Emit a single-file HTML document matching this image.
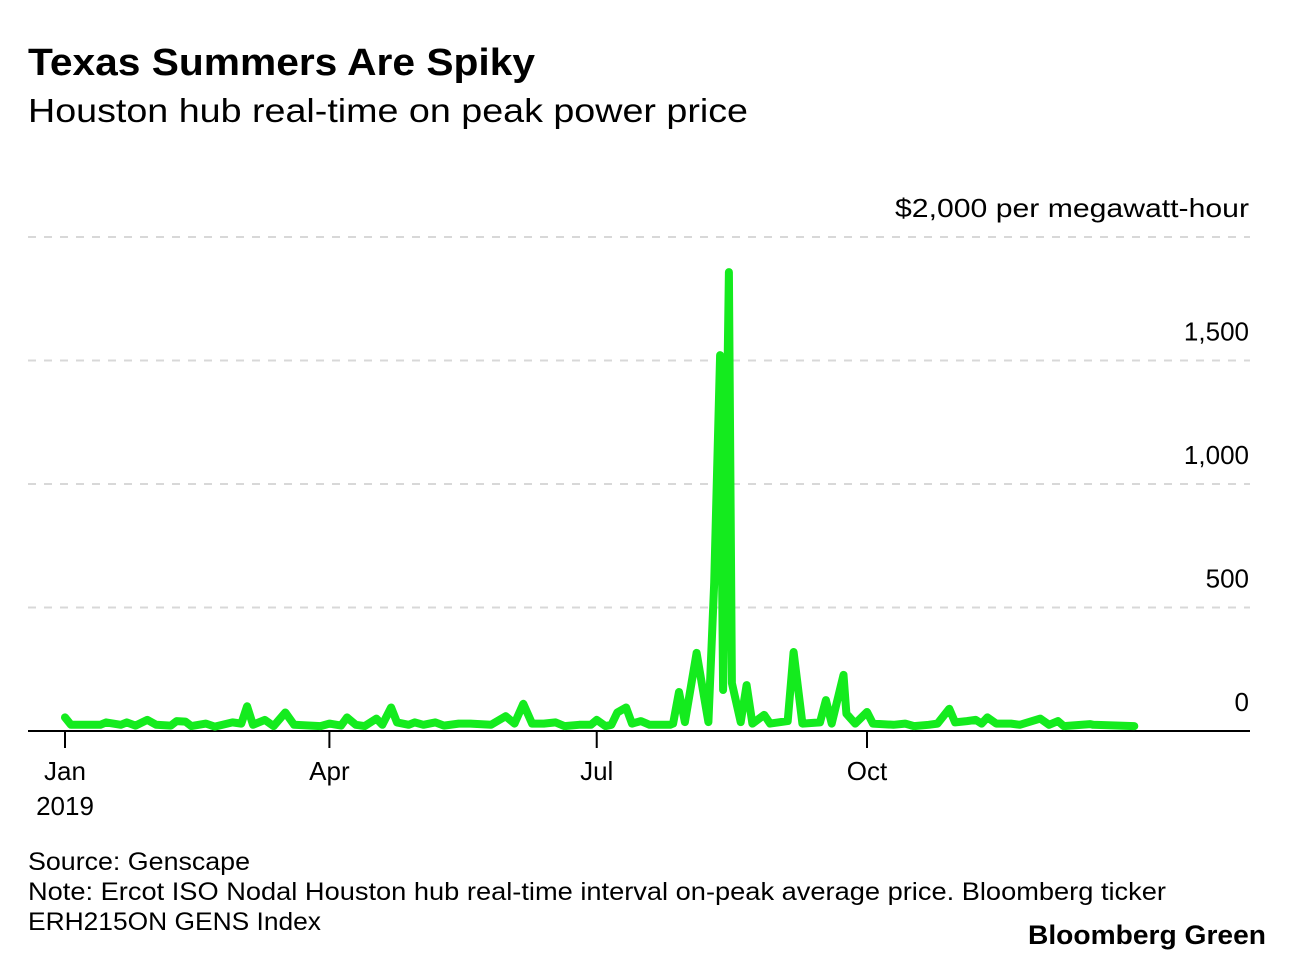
<!DOCTYPE html>
<html><head><meta charset="utf-8"><style>
body{margin:0;background:#fff;font-family:"Liberation Sans",sans-serif;}
svg text{font-family:"Liberation Sans",sans-serif;}
</style></head><body>
<svg width="1296" height="962" xmlns="http://www.w3.org/2000/svg">
<text x="28" y="75" font-size="38" font-weight="bold" fill="#000" textLength="507" lengthAdjust="spacingAndGlyphs">Texas Summers Are Spiky</text>
<text x="28" y="122" font-size="33" fill="#000" textLength="720" lengthAdjust="spacingAndGlyphs">Houston hub real-time on peak power price</text>
<g id="grid"></g>
<g id="xaxis"></g>
<path id="line" fill="none" stroke="#14eb1e" stroke-width="8" stroke-linejoin="round" stroke-linecap="round"/>
<text x="28" y="870" font-size="25" textLength="222" lengthAdjust="spacingAndGlyphs">Source: Genscape</text>
<text x="28" y="900" font-size="25" textLength="1138" lengthAdjust="spacingAndGlyphs">Note: Ercot ISO Nodal Houston hub real-time interval on-peak average price. Bloomberg ticker</text>
<text x="28" y="930" font-size="25" textLength="293" lengthAdjust="spacingAndGlyphs">ERH215ON GENS Index</text>
<text x="1266" y="944" font-size="27" font-weight="bold" text-anchor="end" textLength="238" lengthAdjust="spacingAndGlyphs">Bloomberg Green</text>
</svg>
<script>
const days=[0,2,12,14,19,21,24,28,31,36,38,41,43,48,51,57,60,62,64,68,71,75,78,87,90,94,96,99,102,106,108,111,113,117,119,122,126,129,134,138,145,150,153,156,159,163,167,170,175,179,181,184,186,188,191,193,196,199,206,207,209,211,215,219,221,223,224,226,227,230,232,234,238,240,246,248,251,257,259,261,265,266,269,273,275,282,286,289,294,297,301,303,307,310,312,314,317,322,325,332,335,338,340,349,350,364];
const prices=[55,25,25,35,25,35,22,45,25,22,40,38,20,30,18,35,30,100,25,45,20,75,25,20,30,22,55,25,20,50,25,95,35,25,35,25,35,22,30,30,25,60,30,110,30,30,35,20,25,25,45,20,25,75,95,30,40,25,25,30,158,36,316,36,600,1522,166,1858,194,36,186,30,65,30,40,320,30,35,125,30,227,70,30,77,30,25,30,20,25,30,90,35,40,45,30,55,30,30,25,50,25,40,20,28,25,20];
const yTicks=[0,500,1000,1500,2000];
const yLabels=["0","500","1,000","1,500","$2,000 per megawatt-hour"];
const xTickDays=[0,90,181,273];
const xLabels=["Jan","Apr","Jul","Oct"];
const NS="http://www.w3.org/2000/svg";
const xS=d=>65+d*(867-65)/273;
const yS=v=>731-v*(731-237)/2000;
const grid=document.getElementById('grid');
yTicks.forEach((t,i)=>{
  if(t>0){const l=document.createElementNS(NS,'line');
  l.setAttribute('x1',28);l.setAttribute('x2',1250);l.setAttribute('y1',yS(t));l.setAttribute('y2',yS(t));
  l.setAttribute('stroke','#d8d8d8');l.setAttribute('stroke-width','2');l.setAttribute('stroke-dasharray','8 8');
  
  
  grid.appendChild(l);}
  const tx=document.createElementNS(NS,'text');
  tx.setAttribute('x',1249);tx.setAttribute('y',yS(t)-20);tx.setAttribute('text-anchor','end');tx.setAttribute('font-size','26');
  if(t===2000){tx.setAttribute('textLength','354');tx.setAttribute('lengthAdjust','spacingAndGlyphs');}
  tx.textContent=yLabels[i];
  
  
  grid.appendChild(tx);
});
const xa=document.getElementById('xaxis');
const base=document.createElementNS(NS,'line');
base.setAttribute('x1',28);base.setAttribute('x2',1250);base.setAttribute('y1',731);base.setAttribute('y2',731);base.setAttribute('stroke','#000');base.setAttribute('stroke-width','2');


xa.appendChild(base);
xTickDays.forEach((d,i)=>{
  const l=document.createElementNS(NS,'line');
  l.setAttribute('x1',xS(d));l.setAttribute('x2',xS(d));l.setAttribute('y1',731);l.setAttribute('y2',748);l.setAttribute('stroke','#000');l.setAttribute('stroke-width','2');
  
  
  xa.appendChild(l);
  const tx=document.createElementNS(NS,'text');
  tx.setAttribute('x',xS(d));tx.setAttribute('y',780);tx.setAttribute('text-anchor','middle');tx.setAttribute('font-size','26');
  tx.textContent=xLabels[i];
  
  
  xa.appendChild(tx);
});
const yr=document.createElementNS(NS,'text');
yr.setAttribute('x',xS(0));yr.setAttribute('y',815);yr.setAttribute('text-anchor','middle');yr.setAttribute('font-size','26');yr.textContent='2019';


xa.appendChild(yr);
document.getElementById('line').setAttribute('d',days.map((d,i)=>(i?'L':'M')+xS(d).toFixed(1)+','+yS(prices[i]).toFixed(1)).join(''));
</script>
</body></html>
